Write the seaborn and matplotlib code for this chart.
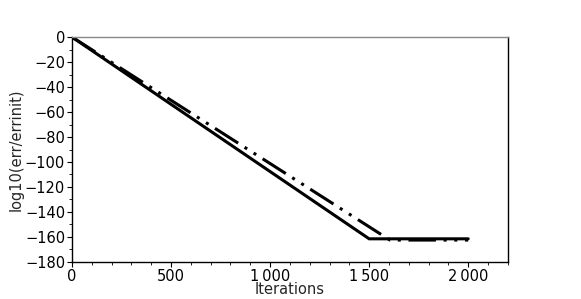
import matplotlib
matplotlib.use("Agg")
import matplotlib.pyplot as plt
import seaborn as sns
import pandas as pd
from matplotlib.ticker import MultipleLocator

sns.set_theme(style="ticks")
plt.rcParams['font.family'] = ['DejaVu Sans']

# Data
solid_iter = [0, 1500, 2000]
solid_val = [0, -161.5, -161.5]
dash_iter = [0, 1605, 2000]
dash_val = [0, -162.5, -162.5]

x_ticks = [0, 500, 1000, 1500, 2000]
x_tick_labels = ["0", "500", "1\u2009000", "1\u2009500", "2\u2009000"]
y_ticks = [0, -20, -40, -60, -80, -100, -120, -140, -160, -180]

df_solid = pd.DataFrame({"Iterations": solid_iter, "v": solid_val})
df_dash = pd.DataFrame({"Iterations": dash_iter, "v": dash_val})

fig = plt.figure(figsize=(5.81, 2.99), dpi=100)
ax = fig.add_axes([0.124, 0.124, 0.750, 0.752])

sns.lineplot(data=df_solid, x="Iterations", y="v", ax=ax, color="black",
             linewidth=2.2, solid_joinstyle="miter")
sns.lineplot(data=df_dash, x="Iterations", y="v", ax=ax, color="black",
             linewidth=2.2, dashes=False)
ax.lines[-1].set_dashes([9, 2.5, 1.0, 2.5, 1.0, 2.5])

ax.set_xlim(0, 2200)
ax.set_ylim(-180, 0)
ax.set_xticks(x_ticks)
ax.set_xticklabels(x_tick_labels)
ax.set_yticks(y_ticks)
ax.xaxis.set_minor_locator(MultipleLocator(100))
ax.yaxis.set_minor_locator(MultipleLocator(10))
ax.tick_params(axis="both", which="major", direction="out", length=3.5, width=0.8,
               labelsize=10.5, pad=1.5, colors="black")
ax.tick_params(axis="both", which="minor", direction="out", length=2, width=0.6, colors="black")

ax.set_xlabel("Iterations", fontsize=10.5, labelpad=-1)
ax.set_ylabel("log10(err/errinit)", fontsize=10.5, labelpad=1)

for s in ["left", "bottom", "right"]:
    ax.spines[s].set_visible(True)
    ax.spines[s].set_color("black")
    ax.spines[s].set_linewidth(1.0)
ax.spines["top"].set_visible(True)
ax.spines["top"].set_color("#888888")
ax.spines["top"].set_linewidth(1.0)
ax.set_facecolor("white")
fig.patch.set_facecolor("white")

fig.savefig("out.png", dpi=100)
